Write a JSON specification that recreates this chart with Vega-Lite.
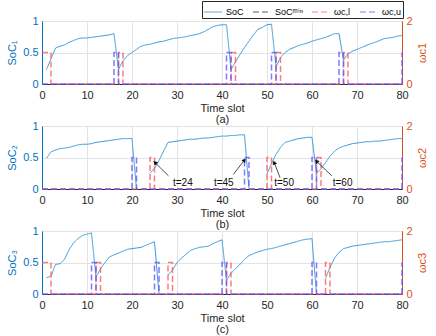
{
  "$schema": "https://vega.github.io/schema/vega-lite/v6.json",
  "padding": {"left": 6, "top": 0, "right": 0, "bottom": 2},
  "bounds": "flush",
  "spacing": 42,
  "datasets": {
    "soc": [
      {"p":1,"seg":"a","t":1,"v":0.23},{"p":1,"seg":"a","t":2,"v":0.40},{"p":1,"seg":"a","t":3,"v":0.57},{"p":1,"seg":"a","t":4,"v":0.60},{"p":1,"seg":"a","t":5,"v":0.62},{"p":1,"seg":"a","t":6,"v":0.66},{"p":1,"seg":"a","t":7,"v":0.69},{"p":1,"seg":"a","t":8,"v":0.72},{"p":1,"seg":"a","t":9,"v":0.73},{"p":1,"seg":"a","t":10,"v":0.73},{"p":1,"seg":"a","t":11,"v":0.74},{"p":1,"seg":"a","t":12,"v":0.75},{"p":1,"seg":"a","t":13,"v":0.76},{"p":1,"seg":"a","t":14,"v":0.77},{"p":1,"seg":"a","t":15,"v":0.78},{"p":1,"seg":"a","t":16,"v":0.80},{"p":1,"seg":"a","t":17,"v":0.23},{"p":1,"seg":"a","t":18,"v":0.37},{"p":1,"seg":"a","t":19,"v":0.45},{"p":1,"seg":"a","t":20,"v":0.50},{"p":1,"seg":"a","t":21,"v":0.55},{"p":1,"seg":"a","t":22,"v":0.60},{"p":1,"seg":"a","t":23,"v":0.62},{"p":1,"seg":"a","t":24,"v":0.63},{"p":1,"seg":"a","t":25,"v":0.65},{"p":1,"seg":"a","t":26,"v":0.67},{"p":1,"seg":"a","t":27,"v":0.68},{"p":1,"seg":"a","t":28,"v":0.70},{"p":1,"seg":"a","t":29,"v":0.72},{"p":1,"seg":"a","t":30,"v":0.73},{"p":1,"seg":"a","t":31,"v":0.74},{"p":1,"seg":"a","t":32,"v":0.75},{"p":1,"seg":"a","t":33,"v":0.77},{"p":1,"seg":"a","t":34,"v":0.78},{"p":1,"seg":"a","t":35,"v":0.80},{"p":1,"seg":"a","t":36,"v":0.83},{"p":1,"seg":"a","t":37,"v":0.87},{"p":1,"seg":"a","t":38,"v":0.91},{"p":1,"seg":"a","t":39,"v":0.93},{"p":1,"seg":"a","t":40,"v":0.94},{"p":1,"seg":"a","t":41,"v":0.94},{"p":1,"seg":"a","t":42,"v":0.23},{"p":1,"seg":"a","t":43,"v":0.35},{"p":1,"seg":"a","t":44,"v":0.47},{"p":1,"seg":"a","t":45,"v":0.58},{"p":1,"seg":"a","t":46,"v":0.68},{"p":1,"seg":"a","t":47,"v":0.78},{"p":1,"seg":"a","t":48,"v":0.87},{"p":1,"seg":"a","t":49,"v":0.90},{"p":1,"seg":"a","t":50,"v":0.94},{"p":1,"seg":"a","t":51,"v":0.95},{"p":1,"seg":"a","t":52,"v":0.27},{"p":1,"seg":"a","t":53,"v":0.42},{"p":1,"seg":"a","t":54,"v":0.50},{"p":1,"seg":"a","t":55,"v":0.55},{"p":1,"seg":"a","t":56,"v":0.58},{"p":1,"seg":"a","t":57,"v":0.61},{"p":1,"seg":"a","t":58,"v":0.63},{"p":1,"seg":"a","t":59,"v":0.65},{"p":1,"seg":"a","t":60,"v":0.68},{"p":1,"seg":"a","t":61,"v":0.70},{"p":1,"seg":"a","t":62,"v":0.72},{"p":1,"seg":"a","t":63,"v":0.74},{"p":1,"seg":"a","t":64,"v":0.77},{"p":1,"seg":"a","t":65,"v":0.80},{"p":1,"seg":"a","t":66,"v":0.80},{"p":1,"seg":"a","t":67,"v":0.38},{"p":1,"seg":"a","t":68,"v":0.48},{"p":1,"seg":"a","t":69,"v":0.52},{"p":1,"seg":"a","t":70,"v":0.55},{"p":1,"seg":"a","t":71,"v":0.58},{"p":1,"seg":"a","t":72,"v":0.61},{"p":1,"seg":"a","t":73,"v":0.64},{"p":1,"seg":"a","t":74,"v":0.66},{"p":1,"seg":"a","t":75,"v":0.69},{"p":1,"seg":"a","t":76,"v":0.72},{"p":1,"seg":"a","t":77,"v":0.73},{"p":1,"seg":"a","t":78,"v":0.74},{"p":1,"seg":"a","t":79,"v":0.76},{"p":1,"seg":"a","t":80,"v":0.77},

      {"p":2,"seg":"a","t":1,"v":0.49},{"p":2,"seg":"a","t":2,"v":0.59},{"p":2,"seg":"a","t":3,"v":0.62},{"p":2,"seg":"a","t":4,"v":0.64},{"p":2,"seg":"a","t":5,"v":0.65},{"p":2,"seg":"a","t":6,"v":0.66},{"p":2,"seg":"a","t":7,"v":0.68},{"p":2,"seg":"a","t":8,"v":0.70},{"p":2,"seg":"a","t":9,"v":0.71},{"p":2,"seg":"a","t":10,"v":0.71},{"p":2,"seg":"a","t":11,"v":0.72},{"p":2,"seg":"a","t":12,"v":0.74},{"p":2,"seg":"a","t":13,"v":0.75},{"p":2,"seg":"a","t":14,"v":0.76},{"p":2,"seg":"a","t":15,"v":0.77},{"p":2,"seg":"a","t":16,"v":0.78},{"p":2,"seg":"a","t":17,"v":0.79},{"p":2,"seg":"a","t":18,"v":0.80},{"p":2,"seg":"a","t":19,"v":0.80},{"p":2,"seg":"a","t":20,"v":0.80},{"p":2,"seg":"a","t":21,"v":0.0},
      {"p":2,"seg":"b","t":24,"v":0.25},{"p":2,"seg":"b","t":25,"v":0.33},{"p":2,"seg":"b","t":26,"v":0.45},{"p":2,"seg":"b","t":27,"v":0.60},{"p":2,"seg":"b","t":28,"v":0.74},{"p":2,"seg":"b","t":29,"v":0.75},{"p":2,"seg":"b","t":30,"v":0.76},{"p":2,"seg":"b","t":31,"v":0.77},{"p":2,"seg":"b","t":32,"v":0.78},{"p":2,"seg":"b","t":33,"v":0.79},{"p":2,"seg":"b","t":34,"v":0.79},{"p":2,"seg":"b","t":35,"v":0.80},{"p":2,"seg":"b","t":36,"v":0.81},{"p":2,"seg":"b","t":37,"v":0.81},{"p":2,"seg":"b","t":38,"v":0.82},{"p":2,"seg":"b","t":39,"v":0.83},{"p":2,"seg":"b","t":40,"v":0.84},{"p":2,"seg":"b","t":41,"v":0.84},{"p":2,"seg":"b","t":42,"v":0.85},{"p":2,"seg":"b","t":43,"v":0.85},{"p":2,"seg":"b","t":44,"v":0.86},{"p":2,"seg":"b","t":45,"v":0.86},{"p":2,"seg":"b","t":46,"v":0.0},
      {"p":2,"seg":"c","t":50,"v":0.24},{"p":2,"seg":"c","t":51,"v":0.40},{"p":2,"seg":"c","t":52,"v":0.55},{"p":2,"seg":"c","t":53,"v":0.66},{"p":2,"seg":"c","t":54,"v":0.74},{"p":2,"seg":"c","t":55,"v":0.76},{"p":2,"seg":"c","t":56,"v":0.78},{"p":2,"seg":"c","t":57,"v":0.80},{"p":2,"seg":"c","t":58,"v":0.81},{"p":2,"seg":"c","t":59,"v":0.82},{"p":2,"seg":"c","t":60,"v":0.82},{"p":2,"seg":"c","t":61,"v":0.25},{"p":2,"seg":"c","t":62,"v":0.32},{"p":2,"seg":"c","t":63,"v":0.42},{"p":2,"seg":"c","t":64,"v":0.52},{"p":2,"seg":"c","t":65,"v":0.60},{"p":2,"seg":"c","t":66,"v":0.65},{"p":2,"seg":"c","t":67,"v":0.68},{"p":2,"seg":"c","t":68,"v":0.70},{"p":2,"seg":"c","t":69,"v":0.72},{"p":2,"seg":"c","t":70,"v":0.73},{"p":2,"seg":"c","t":71,"v":0.74},{"p":2,"seg":"c","t":72,"v":0.75},{"p":2,"seg":"c","t":73,"v":0.75},{"p":2,"seg":"c","t":74,"v":0.76},{"p":2,"seg":"c","t":75,"v":0.76},{"p":2,"seg":"c","t":76,"v":0.77},{"p":2,"seg":"c","t":77,"v":0.78},{"p":2,"seg":"c","t":78,"v":0.79},{"p":2,"seg":"c","t":79,"v":0.80},{"p":2,"seg":"c","t":80,"v":0.80},

      {"p":3,"seg":"a","t":1,"v":0.26},{"p":3,"seg":"a","t":2,"v":0.28},{"p":3,"seg":"a","t":3,"v":0.47},{"p":3,"seg":"a","t":4,"v":0.48},{"p":3,"seg":"a","t":5,"v":0.55},{"p":3,"seg":"a","t":6,"v":0.70},{"p":3,"seg":"a","t":7,"v":0.81},{"p":3,"seg":"a","t":8,"v":0.88},{"p":3,"seg":"a","t":9,"v":0.93},{"p":3,"seg":"a","t":10,"v":0.95},{"p":3,"seg":"a","t":11,"v":0.97},{"p":3,"seg":"a","t":12,"v":0.27},{"p":3,"seg":"a","t":13,"v":0.40},{"p":3,"seg":"a","t":14,"v":0.50},{"p":3,"seg":"a","t":15,"v":0.59},{"p":3,"seg":"a","t":16,"v":0.62},{"p":3,"seg":"a","t":17,"v":0.65},{"p":3,"seg":"a","t":18,"v":0.68},{"p":3,"seg":"a","t":19,"v":0.71},{"p":3,"seg":"a","t":20,"v":0.72},{"p":3,"seg":"a","t":21,"v":0.73},{"p":3,"seg":"a","t":22,"v":0.74},{"p":3,"seg":"a","t":23,"v":0.77},{"p":3,"seg":"a","t":24,"v":0.80},{"p":3,"seg":"a","t":25,"v":0.83},{"p":3,"seg":"a","t":26,"v":0.0},
      {"p":3,"seg":"b","t":28,"v":0.30},{"p":3,"seg":"b","t":29,"v":0.38},{"p":3,"seg":"b","t":30,"v":0.50},{"p":3,"seg":"b","t":31,"v":0.57},{"p":3,"seg":"b","t":32,"v":0.63},{"p":3,"seg":"b","t":33,"v":0.69},{"p":3,"seg":"b","t":34,"v":0.72},{"p":3,"seg":"b","t":35,"v":0.74},{"p":3,"seg":"b","t":36,"v":0.75},{"p":3,"seg":"b","t":37,"v":0.76},{"p":3,"seg":"b","t":38,"v":0.80},{"p":3,"seg":"b","t":39,"v":0.83},{"p":3,"seg":"b","t":40,"v":0.86},{"p":3,"seg":"b","t":41,"v":0.22},{"p":3,"seg":"b","t":42,"v":0.33},{"p":3,"seg":"b","t":43,"v":0.40},{"p":3,"seg":"b","t":44,"v":0.47},{"p":3,"seg":"b","t":45,"v":0.55},{"p":3,"seg":"b","t":46,"v":0.61},{"p":3,"seg":"b","t":47,"v":0.64},{"p":3,"seg":"b","t":48,"v":0.67},{"p":3,"seg":"b","t":49,"v":0.69},{"p":3,"seg":"b","t":50,"v":0.71},{"p":3,"seg":"b","t":51,"v":0.72},{"p":3,"seg":"b","t":52,"v":0.74},{"p":3,"seg":"b","t":53,"v":0.76},{"p":3,"seg":"b","t":54,"v":0.78},{"p":3,"seg":"b","t":55,"v":0.80},{"p":3,"seg":"b","t":56,"v":0.82},{"p":3,"seg":"b","t":57,"v":0.84},{"p":3,"seg":"b","t":58,"v":0.86},{"p":3,"seg":"b","t":59,"v":0.87},{"p":3,"seg":"b","t":60,"v":0.88},{"p":3,"seg":"b","t":61,"v":0.0},
      {"p":3,"seg":"c","t":63,"v":0.25},{"p":3,"seg":"c","t":64,"v":0.42},{"p":3,"seg":"c","t":65,"v":0.57},{"p":3,"seg":"c","t":66,"v":0.66},{"p":3,"seg":"c","t":67,"v":0.72},{"p":3,"seg":"c","t":68,"v":0.74},{"p":3,"seg":"c","t":69,"v":0.76},{"p":3,"seg":"c","t":70,"v":0.77},{"p":3,"seg":"c","t":71,"v":0.78},{"p":3,"seg":"c","t":72,"v":0.79},{"p":3,"seg":"c","t":73,"v":0.80},{"p":3,"seg":"c","t":74,"v":0.81},{"p":3,"seg":"c","t":75,"v":0.82},{"p":3,"seg":"c","t":76,"v":0.83},{"p":3,"seg":"c","t":77,"v":0.83},{"p":3,"seg":"c","t":78,"v":0.84},{"p":3,"seg":"c","t":79,"v":0.85},{"p":3,"seg":"c","t":80,"v":0.86}
    ],
    "om": [
      {"p":1,"s":"ωc,l","t":0,"v":1},{"p":1,"s":"ωc,l","t":2,"v":0},{"p":1,"s":"ωc,l","t":17,"v":1},{"p":1,"s":"ωc,l","t":18,"v":0},{"p":1,"s":"ωc,l","t":42,"v":1},{"p":1,"s":"ωc,l","t":43,"v":0},{"p":1,"s":"ωc,l","t":52,"v":1},{"p":1,"s":"ωc,l","t":53,"v":0},{"p":1,"s":"ωc,l","t":67,"v":1},{"p":1,"s":"ωc,l","t":68,"v":0},{"p":1,"s":"ωc,l","t":80,"v":0},
      {"p":1,"s":"ωc,u","t":0,"v":0},{"p":1,"s":"ωc,u","t":16,"v":1},{"p":1,"s":"ωc,u","t":17,"v":0},{"p":1,"s":"ωc,u","t":41,"v":1},{"p":1,"s":"ωc,u","t":42,"v":0},{"p":1,"s":"ωc,u","t":51,"v":1},{"p":1,"s":"ωc,u","t":52,"v":0},{"p":1,"s":"ωc,u","t":66,"v":1},{"p":1,"s":"ωc,u","t":67,"v":0},{"p":1,"s":"ωc,u","t":80,"v":1},
      {"p":2,"s":"ωc,l","t":0,"v":0},{"p":2,"s":"ωc,l","t":24,"v":1},{"p":2,"s":"ωc,l","t":25,"v":0},{"p":2,"s":"ωc,l","t":50,"v":1},{"p":2,"s":"ωc,l","t":51,"v":0},{"p":2,"s":"ωc,l","t":61,"v":1},{"p":2,"s":"ωc,l","t":62,"v":0},{"p":2,"s":"ωc,l","t":80,"v":0},
      {"p":2,"s":"ωc,u","t":0,"v":0},{"p":2,"s":"ωc,u","t":20,"v":1},{"p":2,"s":"ωc,u","t":21,"v":0},{"p":2,"s":"ωc,u","t":45,"v":1},{"p":2,"s":"ωc,u","t":46,"v":0},{"p":2,"s":"ωc,u","t":60,"v":1},{"p":2,"s":"ωc,u","t":61,"v":0},{"p":2,"s":"ωc,u","t":80,"v":1},
      {"p":3,"s":"ωc,l","t":0,"v":1},{"p":3,"s":"ωc,l","t":2,"v":0},{"p":3,"s":"ωc,l","t":12,"v":1},{"p":3,"s":"ωc,l","t":13,"v":0},{"p":3,"s":"ωc,l","t":28,"v":1},{"p":3,"s":"ωc,l","t":29,"v":0},{"p":3,"s":"ωc,l","t":41,"v":1},{"p":3,"s":"ωc,l","t":42,"v":0},{"p":3,"s":"ωc,l","t":63,"v":1},{"p":3,"s":"ωc,l","t":64,"v":0},{"p":3,"s":"ωc,l","t":80,"v":0},
      {"p":3,"s":"ωc,u","t":0,"v":0},{"p":3,"s":"ωc,u","t":11,"v":1},{"p":3,"s":"ωc,u","t":12,"v":0},{"p":3,"s":"ωc,u","t":25,"v":1},{"p":3,"s":"ωc,u","t":26,"v":0},{"p":3,"s":"ωc,u","t":40,"v":1},{"p":3,"s":"ωc,u","t":41,"v":0},{"p":3,"s":"ωc,u","t":60,"v":1},{"p":3,"s":"ωc,u","t":61,"v":0},{"p":3,"s":"ωc,u","t":80,"v":1}
    ],
    "ann": [
      {"label":"t=24","lt":31.3,"lv":0.1,"tt":28.1,"tv":0.21,"ht":25.1,"hv":0.42},
      {"label":"t=45","lt":40.4,"lv":0.09,"tt":42.5,"tv":0.23,"ht":45.0,"hv":0.46},
      {"label":"t=50","lt":53.8,"lv":0.09,"tt":52.9,"tv":0.18,"ht":51.6,"hv":0.42},
      {"label":"t=60","lt":66.8,"lv":0.09,"tt":64.4,"tv":0.21,"ht":61.0,"hv":0.44}
    ]
  },
  "vconcat": [
    {
      "width": 360, "height": 63,
      "layer": [
        {"data": {"name": "soc"}, "transform": [{"filter": "datum.p == 1"}],
         "mark": {"type": "line", "strokeWidth": 1},
         "encoding": {
           "x": {"field": "t", "type": "quantitative", "scale": {"domain": [0, 80], "nice": false}, "axis": {"values": [0,10,20,30,40,50,60,70,80], "title": ["Time slot", "(a)"]}},
           "y": {"field": "v", "type": "quantitative", "scale": {"domain": [0, 1]}, "axis": {"values": [0, 0.5, 1], "labelExpr": "datum.value == 0.5 ? '0.5' : format(datum.value, 'd')", "title": "SoC₁", "orient": "left", "labelColor": "#0072BD", "domainColor": "#0072BD", "titleColor": "#0072BD", "grid": true}},
           "detail": {"field": "seg"},
           "color": {"datum": "SoC", "type": "nominal", "scale": {"domain": ["SoC", "SoCᵐⁱⁿ", "ωc,l", "ωc,u"], "range": ["#3A97D6", "#333333", "#FF5A5A", "#5A5AFF"]}, "title": null},
           "strokeDash": {"datum": "SoC", "type": "nominal", "scale": {"domain": ["SoC", "SoCᵐⁱⁿ", "ωc,l", "ωc,u"], "range": [[1, 0], [6, 3], [6, 3], [6, 3]]}, "title": null}
         }},
        {"mark": {"type": "rule", "strokeWidth": 1},
         "encoding": {
           "y": {"datum": 0.8, "type": "quantitative", "scale": {"domain": [0, 1]}, "axis": null},
           "color": {"datum": "SoCᵐⁱⁿ", "type": "nominal"},
           "strokeDash": {"datum": "SoCᵐⁱⁿ", "type": "nominal"}
         }},
        {"data": {"name": "om"}, "transform": [{"filter": "datum.p == 1"}],
         "mark": {"type": "line", "interpolate": "step-after", "strokeWidth": 1.5, "opacity": 0.8},
         "encoding": {
           "x": {"field": "t", "type": "quantitative"},
           "y": {"field": "v", "type": "quantitative", "scale": {"domain": [0, 2]}, "axis": {"values": [0, 1, 2], "format": "d", "title": "ωc1", "orient": "right", "labelColor": "#D95319", "domainColor": "#D95319", "titleColor": "#D95319", "titleAngle": 270, "titleBaseline": "top", "titlePadding": 4, "grid": false}},
           "color": {"field": "s", "type": "nominal"},
           "strokeDash": {"field": "s", "type": "nominal"}
         }}
      ],
      "resolve": {"scale": {"y": "independent"}}
    },
    {
      "width": 360, "height": 63,
      "layer": [
        {"data": {"name": "soc"}, "transform": [{"filter": "datum.p == 2"}],
         "mark": {"type": "line", "strokeWidth": 1},
         "encoding": {
           "x": {"field": "t", "type": "quantitative", "scale": {"domain": [0, 80], "nice": false}, "axis": {"values": [0,10,20,30,40,50,60,70,80], "title": ["Time slot", "(b)"]}},
           "y": {"field": "v", "type": "quantitative", "scale": {"domain": [0, 1]}, "axis": {"values": [0, 0.5, 1], "labelExpr": "datum.value == 0.5 ? '0.5' : format(datum.value, 'd')", "title": "SoC₂", "orient": "left", "labelColor": "#0072BD", "domainColor": "#0072BD", "titleColor": "#0072BD", "grid": true}},
           "detail": {"field": "seg"},
           "color": {"datum": "SoC", "type": "nominal"},
           "strokeDash": {"datum": "SoC", "type": "nominal"}
         }},
        {"mark": {"type": "rule", "strokeWidth": 1},
         "encoding": {
           "y": {"datum": 0.8, "type": "quantitative", "scale": {"domain": [0, 1]}, "axis": null},
           "color": {"datum": "SoCᵐⁱⁿ", "type": "nominal"},
           "strokeDash": {"datum": "SoCᵐⁱⁿ", "type": "nominal"}
         }},
        {"data": {"name": "om"}, "transform": [{"filter": "datum.p == 2"}],
         "mark": {"type": "line", "interpolate": "step-after", "strokeWidth": 1.5, "opacity": 0.8},
         "encoding": {
           "x": {"field": "t", "type": "quantitative"},
           "y": {"field": "v", "type": "quantitative", "scale": {"domain": [0, 2]}, "axis": {"values": [0, 1, 2], "format": "d", "title": "ωc2", "orient": "right", "labelColor": "#D95319", "domainColor": "#D95319", "titleColor": "#D95319", "titleAngle": 270, "titleBaseline": "top", "titlePadding": 4, "grid": false}},
           "color": {"field": "s", "type": "nominal"},
           "strokeDash": {"field": "s", "type": "nominal"}
         }},
        {"data": {"name": "ann"},
         "mark": {"type": "rule", "color": "#222222", "strokeWidth": 0.8},
         "encoding": {
           "x": {"field": "tt", "type": "quantitative"},
           "x2": {"field": "ht"},
           "y": {"field": "tv", "type": "quantitative", "scale": {"domain": [0, 1]}, "axis": null},
           "y2": {"field": "hv"}
         }},
        {"data": {"name": "ann"}, "transform": [{"filter": "datum.label == 't=24' || datum.label == 't=60'"}],
         "mark": {"type": "point", "shape": "triangle-up", "angle": 315, "filled": true, "color": "#111111", "size": 22, "opacity": 1},
         "encoding": {
           "x": {"field": "ht", "type": "quantitative"},
           "y": {"field": "hv", "type": "quantitative", "scale": {"domain": [0, 1]}, "axis": null}
         }},
        {"data": {"name": "ann"}, "transform": [{"filter": "datum.label == 't=45'"}],
         "mark": {"type": "point", "shape": "triangle-up", "angle": 38, "filled": true, "color": "#111111", "size": 22, "opacity": 1},
         "encoding": {
           "x": {"field": "ht", "type": "quantitative"},
           "y": {"field": "hv", "type": "quantitative", "scale": {"domain": [0, 1]}, "axis": null}
         }},
        {"data": {"name": "ann"}, "transform": [{"filter": "datum.label == 't=50'"}],
         "mark": {"type": "point", "shape": "triangle-up", "angle": 339, "filled": true, "color": "#111111", "size": 22, "opacity": 1},
         "encoding": {
           "x": {"field": "ht", "type": "quantitative"},
           "y": {"field": "hv", "type": "quantitative", "scale": {"domain": [0, 1]}, "axis": null}
         }},
        {"data": {"name": "ann"},
         "mark": {"type": "text", "fontSize": 10, "color": "#111111"},
         "encoding": {
           "x": {"field": "lt", "type": "quantitative"},
           "y": {"field": "lv", "type": "quantitative", "scale": {"domain": [0, 1]}, "axis": null},
           "text": {"field": "label"}
         }}
      ],
      "resolve": {"scale": {"y": "independent"}}
    },
    {
      "width": 360, "height": 63,
      "layer": [
        {"data": {"name": "soc"}, "transform": [{"filter": "datum.p == 3"}],
         "mark": {"type": "line", "strokeWidth": 1},
         "encoding": {
           "x": {"field": "t", "type": "quantitative", "scale": {"domain": [0, 80], "nice": false}, "axis": {"values": [0,10,20,30,40,50,60,70,80], "title": ["Time slot", "(c)"]}},
           "y": {"field": "v", "type": "quantitative", "scale": {"domain": [0, 1]}, "axis": {"values": [0, 0.5, 1], "labelExpr": "datum.value == 0.5 ? '0.5' : format(datum.value, 'd')", "title": "SoC₃", "orient": "left", "labelColor": "#0072BD", "domainColor": "#0072BD", "titleColor": "#0072BD", "grid": true}},
           "detail": {"field": "seg"},
           "color": {"datum": "SoC", "type": "nominal"},
           "strokeDash": {"datum": "SoC", "type": "nominal"}
         }},
        {"mark": {"type": "rule", "strokeWidth": 1},
         "encoding": {
           "y": {"datum": 0.8, "type": "quantitative", "scale": {"domain": [0, 1]}, "axis": null},
           "color": {"datum": "SoCᵐⁱⁿ", "type": "nominal"},
           "strokeDash": {"datum": "SoCᵐⁱⁿ", "type": "nominal"}
         }},
        {"data": {"name": "om"}, "transform": [{"filter": "datum.p == 3"}],
         "mark": {"type": "line", "interpolate": "step-after", "strokeWidth": 1.5, "opacity": 0.8},
         "encoding": {
           "x": {"field": "t", "type": "quantitative"},
           "y": {"field": "v", "type": "quantitative", "scale": {"domain": [0, 2]}, "axis": {"values": [0, 1, 2], "format": "d", "title": "ωc3", "orient": "right", "labelColor": "#D95319", "domainColor": "#D95319", "titleColor": "#D95319", "titleAngle": 270, "titleBaseline": "top", "titlePadding": 4, "grid": false}},
           "color": {"field": "s", "type": "nominal"},
           "strokeDash": {"field": "s", "type": "nominal"}
         }}
      ],
      "resolve": {"scale": {"y": "independent"}}
    }
  ],
  "config": {
    "font": "Liberation Sans",
    "view": {"stroke": "#262626", "strokeWidth": 1},
    "axis": {"ticks": false, "labelPadding": 4, "labelFontSize": 11, "titleFontSize": 11, "titleFontWeight": "normal", "gridColor": "#E3E3E3", "gridWidth": 1, "domainColor": "#262626", "labelColor": "#262626", "titleColor": "#262626", "titlePadding": 2},
    "axisLeft": {"titlePadding": 5},
    "axisX": {"grid": true, "titleFontSize": 11, "titleLineHeight": 11, "labelPadding": 5, "labelFlush": false},
    "legend": {"orient": "none", "legendX": 160, "legendY": -20, "direction": "horizontal", "columns": 4, "strokeColor": "#262626", "padding": 1, "labelFontSize": 9, "symbolType": "stroke", "symbolSize": 330, "symbolStrokeWidth": 1.2, "columnPadding": 6, "labelOffset": 3, "fillColor": "white"}
  }
}
